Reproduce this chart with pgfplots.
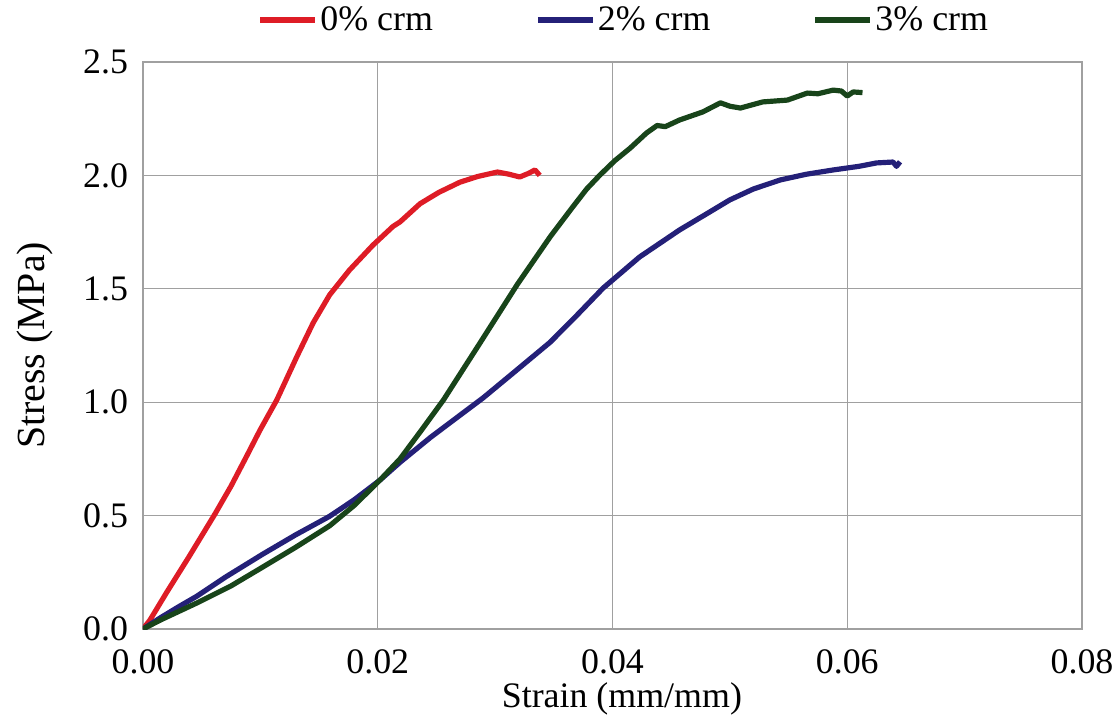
\documentclass[border=0pt]{standalone}
\usepackage{fontspec}
\setmainfont{Liberation Serif}
\usepackage{pgfplots}
\pgfplotsset{compat=1.18}
\definecolor{cred}{RGB}{222,28,38}
\definecolor{cblue}{RGB}{36,32,120}
\definecolor{cgreen}{RGB}{24,68,26}
\definecolor{cgrid}{RGB}{160,160,160}
\begin{document}
\begin{tikzpicture}[font=\fontsize{18}{22}\selectfont]
\useasboundingbox (-71.5bp,-49bp) rectangle (487.5bp,314.5bp);
\begin{axis}[
  at={(0,0)}, anchor=south west,
  scale only axis, width=469.5bp, height=283.5bp,
  xmin=0, xmax=0.08, ymin=0, ymax=2.5,
  xtick={0,0.02,0.04,0.06,0.08},
  ytick={0,0.5,1,1.5,2,2.5},
  /pgf/number format/assume math mode=true,
  xticklabel style={yshift=-7bp, /pgf/number format/.cd, fixed, fixed zerofill, precision=2},
  yticklabel style={xshift=-4bp, /pgf/number format/.cd, fixed, fixed zerofill, precision=1},
  scaled x ticks=false,
  major tick length=0pt,
  grid=major,
  grid style={cgrid, line width=0.7pt},
  axis line style={cgrid, line width=0.8pt},
  axis lines=box,
  xlabel={Strain (mm/mm)},
  ylabel={Stress (MPa)},
  xlabel style={at={(axis description cs:0.51,-0.124)}, anchor=center},
  ylabel style={at={(axis description cs:-0.115,0.5)}, anchor=center, font=\fontsize{20}{24}\selectfont},
  legend columns=3,
  legend style={at={(axis description cs:0.512,1.074)}, anchor=center, draw=none, fill=none,
    /tikz/every even column/.append style={column sep=50bp},
    inner sep=0pt, nodes={inner sep=1bp}},
  legend image code/.code={\draw[#1, line width=3pt] (0,0) -- (27.5bp,0);},
]
\addplot[cred, line width=2.6pt, line join=round] coordinates {
(0,0) (0.0006,0.04) (0.002,0.16) (0.0039,0.317) (0.00613,0.507) (0.0075,0.63)
(0.00886,0.765) (0.00997,0.877) (0.0114,1.01) (0.0131,1.20) (0.0145,1.35)
(0.0159,1.473) (0.0176,1.583) (0.0196,1.693) (0.0213,1.775) (0.0219,1.795)
(0.0236,1.875) (0.0252,1.925) (0.027,1.97) (0.0285,1.995) (0.0302,2.015)
(0.0312,2.005) (0.0321,1.993) (0.0328,2.008) (0.0334,2.024) (0.0338,2.0)
};
\addlegendentry{0\% crm}
\addplot[cblue, line width=2.6pt, line join=round] coordinates {
(0,0) (0.0015,0.05) (0.003,0.097) (0.0046,0.145) (0.007,0.228) (0.0102,0.33)
(0.013,0.415) (0.0159,0.497) (0.018,0.57) (0.0202,0.657) (0.0219,0.735)
(0.0245,0.845) (0.029,1.02) (0.0318,1.14) (0.0347,1.265) (0.037,1.385)
(0.0392,1.503) (0.0423,1.64) (0.0457,1.759) (0.048,1.83) (0.050,1.892)
(0.052,1.94) (0.0543,1.98) (0.0565,2.005) (0.0588,2.024) (0.061,2.04)
(0.0625,2.055) (0.0639,2.059) (0.0642,2.04) (0.0645,2.06)
};
\addlegendentry{2\% crm}
\addplot[cgreen, line width=2.6pt, line join=round] coordinates {
(0,0) (0.0015,0.04) (0.0046,0.115) (0.0075,0.19) (0.0102,0.273) (0.013,0.36)
(0.0159,0.455) (0.018,0.545) (0.0202,0.657) (0.0219,0.75) (0.0237,0.875)
(0.0256,1.01) (0.0287,1.26) (0.0319,1.52) (0.0347,1.73) (0.0366,1.86)
(0.0378,1.94) (0.0389,2.0) (0.0402,2.065) (0.0415,2.12) (0.0429,2.187)
(0.0438,2.22) (0.0445,2.215) (0.0457,2.244) (0.0477,2.28) (0.0492,2.32)
(0.050,2.305) (0.0509,2.297) (0.0528,2.324) (0.0549,2.332) (0.0566,2.363)
(0.0575,2.36) (0.0588,2.376) (0.0595,2.372) (0.060,2.35) (0.0605,2.368)
(0.0613,2.365)
};
\addlegendentry{3\% crm}
\end{axis}
\end{tikzpicture}
\end{document}
